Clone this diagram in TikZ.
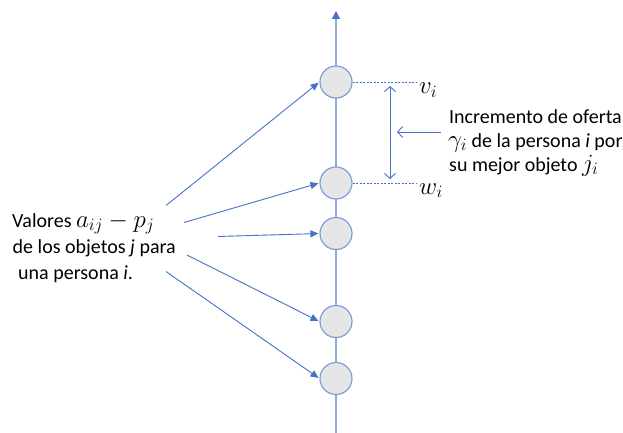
\documentclass[tikz,border=0pt]{standalone}
\usepackage{fontspec}
\setmainfont{Carlito}
\usetikzlibrary{arrows.meta}
\definecolor{lineblue}{HTML}{4472C4}
\definecolor{axisblue}{HTML}{8FAADC}
\definecolor{circfill}{HTML}{E6E6E6}
\definecolor{circdraw}{HTML}{7F9FD6}
\newcommand{\bm}[1]{{\fontsize{23}{24}\selectfont$#1$}}
\tikzset{
  axisline/.style={draw=axisblue, line width=1.5pt},
  dot/.style={circle, minimum size=32pt, inner sep=0pt, fill=circfill, draw=circdraw, line width=1.2pt},
  conn/.style={draw=lineblue, line width=0.9pt, -{Triangle[length=8pt,width=7pt]}, shorten >=1pt},
  guide/.style={draw=lineblue, line width=0.8pt, dash pattern=on 2pt off 1.5pt},
  openarr/.style={draw=lineblue, line width=0.9pt},
  txt/.style={anchor=base west, inner sep=0pt, font=\fontsize{20}{24}\selectfont},
  mlab/.style={anchor=base west, inner sep=0pt, font=\fontsize{26}{28}\selectfont}
}
\begin{document}
\begin{tikzpicture}[x=1pt,y=-1pt]
\useasboundingbox (0,0) rectangle (623,433);
% axis
\coordinate (bot) at (336,433);
\coordinate (top) at (336,11);
\draw[axisline, -{Triangle[length=8pt,width=8pt,color=lineblue]}] (bot) -- (top);
% circles
\node[dot] (c1) at (336,82) {};
\node[dot] (c2) at (336,183) {};
\node[dot] (c3) at (336,233.5) {};
\node[dot] (c4) at (336,321.5) {};
\node[dot] (c5) at (336,378.5) {};
% dashed guides and labels
\coordinate (d1) at (416,82);
\coordinate (d2) at (416,183);
\draw[guide] (c1.east) -- (d1);
\draw[guide] (c2.east) -- (d2);
\node[mlab] (vi) at (419,94) {$v_i$};
\node[mlab] (wi) at (419,194) {$w_i$};
% double arrow
\coordinate (ua) at (390,86);
\coordinate (la) at (390,179);
\draw[openarr, {Straight Barb[length=5pt,width=11pt]}-{Straight Barb[length=5pt,width=11pt]}] (ua) -- (la);
\coordinate (pa) at (441,132);
\coordinate (pb) at (397,132);
\draw[openarr, -{Straight Barb[length=5pt,width=11pt]}] (pa) -- (pb);
% right text
\node[txt] (r1) at (449,123) {Incremento de oferta};
\node[txt] (r2) at (448,147) {\bm{\gamma_i} de la persona \textit{i} por};
\node[txt] (r3) at (449,171) {su mejor objeto \bm{j_i}};
% left text
\node[txt] (l1) at (12,227) {Valores \bm{a_{ij}-p_j}};
\node[txt] (l2) at (12.5,253) {de los objetos \textit{j} para};
\node[txt] (l3) at (18,279) {una persona \textit{i}.};
% connectors
\coordinate (s1) at (166,205.5);
\coordinate (s2) at (184,222.5);
\coordinate (s3) at (218,236.5);
\coordinate (s4) at (187,255);
\coordinate (s5) at (166,271.5);
\draw[conn] (s1) -- (c1.west);
\draw[conn] (s2) -- (c2.west);
\draw[conn] (s3) -- (c3.west);
\draw[conn] (s4) -- (c4.west);
\draw[conn] (s5) -- (c5.west);
\end{tikzpicture}
\end{document}
